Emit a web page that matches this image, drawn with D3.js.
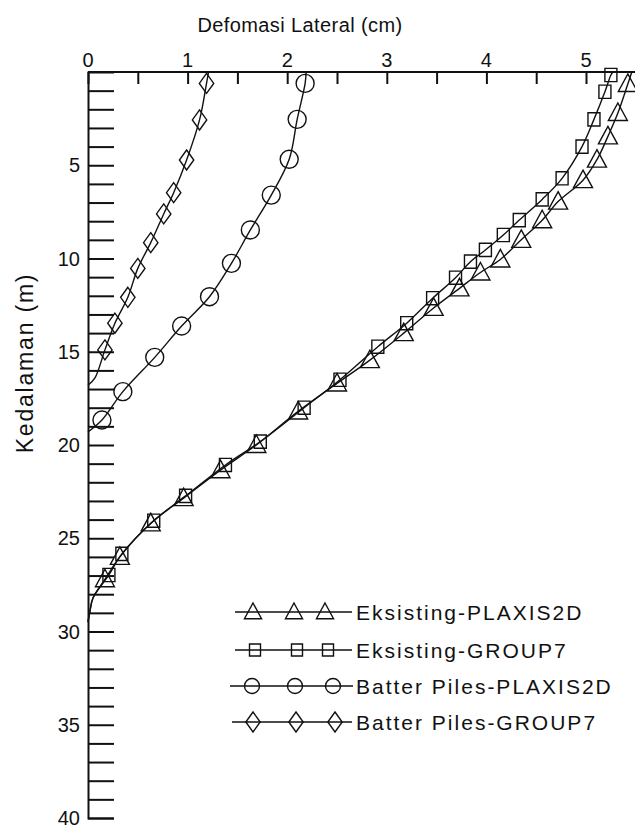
<!DOCTYPE html>
<html>
<head>
<meta charset="utf-8">
<script src="https://cdn.jsdelivr.net/npm/d3@7"></script>
<style>
  body { margin: 0; background: #fff; }
  text { font-family: "Liberation Sans", Arial, sans-serif; fill: #111; }
</style>
</head>
<body>
<script>
// depth (m) and lateral deflection (cm)
var eksPlaxisDepth = [0, 0.64, 2.2, 3.45, 4.7, 5.8, 6.95, 7.95, 9.0, 10.05, 10.75, 11.6, 12.65, 14.0, 15.45, 16.7, 18.2, 20.0, 21.35, 22.85, 24.2, 26.0, 27.2, 28.2, 28.9, 29.5];
var eksPlaxisDefl  = [5.46, 5.42, 5.32, 5.22, 5.11, 4.97, 4.72, 4.56, 4.35, 4.14, 3.94, 3.73, 3.47, 3.17, 2.83, 2.5, 2.11, 1.69, 1.33, 0.96, 0.63, 0.32, 0.17, 0.05, 0.02, 0];

var eksGroupDepth = [0, 0.16, 1.06, 2.54, 4.0, 5.7, 6.83, 7.94, 8.74, 9.54, 10.17, 11.03, 12.13, 13.47, 14.73, 16.5, 18.0, 19.82, 21.07, 22.73, 24.06, 25.84, 26.97, 28.2, 28.9, 29.5];
var eksGroupDefl  = [5.27, 5.25, 5.19, 5.08, 4.96, 4.76, 4.56, 4.33, 4.17, 3.99, 3.84, 3.69, 3.46, 3.2, 2.91, 2.53, 2.17, 1.73, 1.38, 0.98, 0.66, 0.34, 0.21, 0.05, 0.02, 0];

var batPlaxisDepth = [0, 0.61, 2.54, 4.68, 6.6, 8.47, 10.26, 12.05, 13.62, 15.3, 17.14, 18.66, 19.3];
var batPlaxisDefl  = [2.19, 2.18, 2.1, 2.02, 1.84, 1.63, 1.44, 1.22, 0.94, 0.67, 0.35, 0.14, 0];

var batGroupDepth = [0, 0.61, 2.57, 4.72, 6.47, 7.61, 9.15, 10.53, 12.08, 13.47, 14.9, 16.4, 16.8];
var batGroupDefl  = [1.21, 1.19, 1.12, 0.99, 0.86, 0.76, 0.63, 0.5, 0.4, 0.27, 0.17, 0.07, 0];

var seriesNames = ['Eksisting-PLAXIS2D', 'Eksisting-GROUP7', 'Batter Piles-PLAXIS2D', 'Batter Piles-GROUP7'];
var xTicks = [0, 1, 2, 3, 4, 5];
var yTicks = [5, 10, 15, 20, 25, 30, 35, 40];

var width = 635,
    height = 827;

var svg = d3.select('body').append('svg')
    .attr('width', width)
    .attr('height', height);

var x = d3.scaleLinear().domain([0, 5.5]).range([88, 88 + 5.5 * 99.6]);
var y = d3.scaleLinear().domain([0, 40]).range([72, 818]);

// marker shapes, centred on 0,0
function markerPath(kind, s) {
  if (kind === 'tri') {
    return 'M0,' + (-s) + 'L' + (s * 0.95) + ',' + (s * 0.75) + 'L' + (-s * 0.95) + ',' + (s * 0.75) + 'Z';
  }
  if (kind === 'sq') {
    return 'M' + (-s * 0.5) + ',' + (-s * 0.55) + 'h' + s + 'v' + (s * 1.1) + 'h' + (-s) + 'Z';
  }
  if (kind === 'circ') {
    return d3.symbol(d3.symbolCircle, Math.PI * s * s)();
  }
  // diamond
  return 'M0,' + (-s) + 'L' + (s * 0.72) + ',0L0,' + s + 'L' + (-s * 0.72) + ',0Z';
}

var series = [
  { name: seriesNames[0], depth: eksPlaxisDepth, defl: eksPlaxisDefl, kind: 'tri', size: 10 },
  { name: seriesNames[1], depth: eksGroupDepth, defl: eksGroupDefl, kind: 'sq', size: 12 },
  { name: seriesNames[2], depth: batPlaxisDepth, defl: batPlaxisDefl, kind: 'circ', size: 9 },
  { name: seriesNames[3], depth: batGroupDepth, defl: batGroupDefl, kind: 'dia', size: 10 }
];

// ---- axes ----
var topAxis = svg.append('g')
    .attr('transform', 'translate(0,' + y(0) + ')')
    .call(d3.axisBottom(x).tickValues(d3.range(0, 5.51, 0.5)).tickSize(12).tickFormat(''));
topAxis.select('.domain').attr('d', 'M' + x(0) + ',0H' + width);

topAxis.selectAll('.xlab')
    .data(xTicks)
    .enter().append('text')
    .attr('class', 'xlab')
    .attr('x', function(d) { return x(d); })
    .attr('y', -5)
    .attr('text-anchor', 'middle')
    .style('font-size', '20px')
    .text(function(d) { return d; });

var leftAxis = svg.append('g')
    .attr('transform', 'translate(' + x(0) + ',0)')
    .call(d3.axisRight(y).tickValues(d3.range(1, 41, 1)).tickSize(26).tickFormat(''));

leftAxis.selectAll('.ylab')
    .data(yTicks)
    .enter().append('text')
    .attr('class', 'ylab')
    .attr('x', -8)
    .attr('y', function(d) { return y(d); })
    .attr('dy', '0.36em')
    .attr('text-anchor', 'end')
    .style('font-size', '20px')
    .text(function(d) { return d; });

svg.selectAll('.domain, .tick line')
    .attr('stroke', '#111')
    .attr('stroke-width', 2);

// axis titles
svg.append('text')
    .attr('x', 300)
    .attr('y', 32)
    .attr('text-anchor', 'middle')
    .style('font-size', '20px')
    .style('letter-spacing', '0.4px')
    .text('Defomasi Lateral (cm)');

svg.append('text')
    .attr('transform', 'translate(33,363) rotate(-90)')
    .attr('text-anchor', 'middle')
    .style('font-size', '23px')
    .style('letter-spacing', '1.8px')
    .text('Kedalaman (m)');

// ---- series ----
var line = d3.line()
    .x(function(d) { return x(d[0]); })
    .y(function(d) { return y(d[1]); })
    .curve(d3.curveCatmullRom);

series.forEach(function(s) {
  var pts = s.defl.map(function(v, i) { return [v, s.depth[i]]; });

  svg.append('path')
    .datum(pts)
    .attr('d', line)
    .attr('fill', 'none')
    .attr('stroke', '#111')
    .attr('stroke-width', 1.4);

  // markers only on the plotted nodes (not the end points on the axes)
  svg.selectAll('.m-' + s.kind)
    .data(pts.filter(function(d) { return d[0] > 0.1 && d[1] > 0.1; }))
    .enter().append('path')
    .attr('class', 'm-' + s.kind)
    .attr('transform', function(d) { return 'translate(' + x(d[0]) + ',' + y(d[1]) + ')'; })
    .attr('d', markerPath(s.kind, s.size))
    .attr('fill', 'none')
    .attr('stroke', '#111')
    .attr('stroke-width', 1.4);
});

// ---- legend ----
var legendY = [612, 650, 686, 722];
var legendLineX = [[235, 352], [235, 352], [230, 353], [232, 352]];
var legendMarkX = [[253, 294, 325], [255, 297, 328], [252, 295, 333], [253, 296, 335]];
var legendSize = [9, 11, 7.5, 10];

var legend = svg.append('g');

series.forEach(function(s, i) {
  legend.append('line')
    .attr('x1', legendLineX[i][0])
    .attr('x2', legendLineX[i][1])
    .attr('y1', legendY[i])
    .attr('y2', legendY[i])
    .attr('stroke', '#111')
    .attr('stroke-width', 1.4);

  legend.selectAll('.lm' + i)
    .data(legendMarkX[i])
    .enter().append('path')
    .attr('class', 'lm' + i)
    .attr('transform', function(d) { return 'translate(' + d + ',' + legendY[i] + ')'; })
    .attr('d', markerPath(s.kind, legendSize[i]))
    .attr('fill', 'none')
    .attr('stroke', '#111')
    .attr('stroke-width', 1.4);

  legend.append('text')
    .attr('x', 356)
    .attr('y', legendY[i])
    .attr('dy', '0.36em')
    .style('font-size', '21px')
    .style('letter-spacing', '2px')
    .text(s.name);
});
</script>
</body>
</html>
